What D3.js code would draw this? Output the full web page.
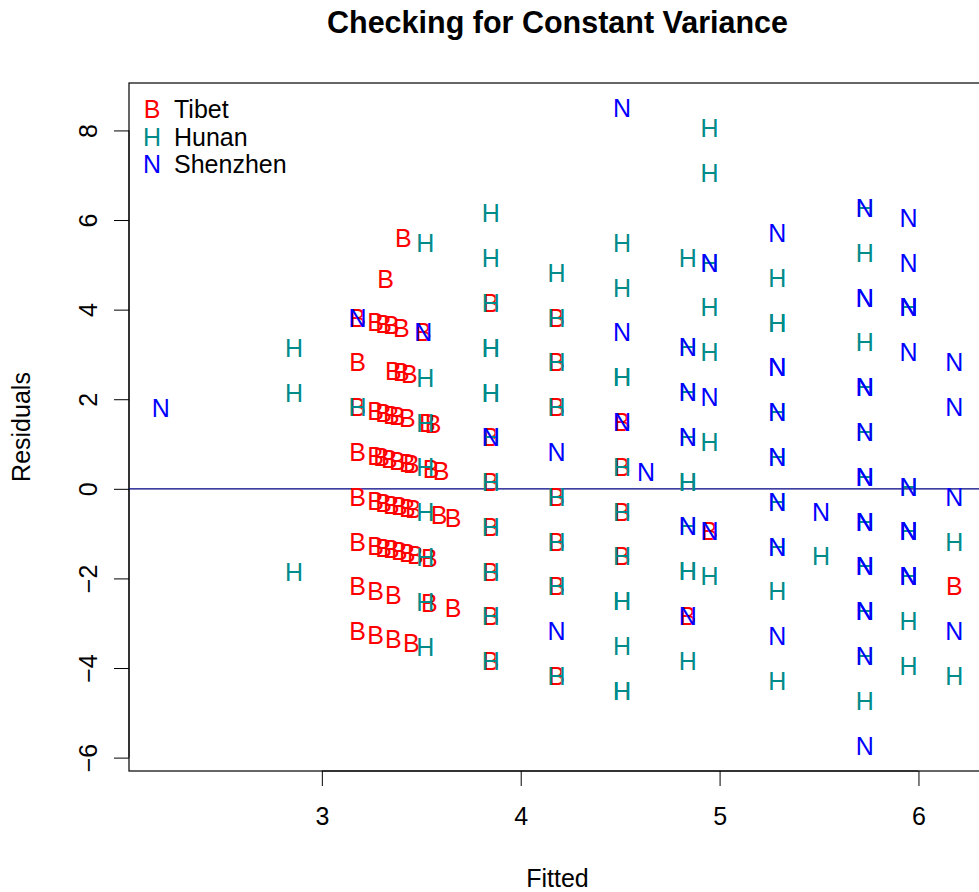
<!DOCTYPE html>
<html>
<head>
<meta charset="utf-8">
<script src="https://cdn.jsdelivr.net/npm/d3@7/dist/d3.min.js"></script>
<style>
  html, body { margin: 0; padding: 0; background: #fff; }
  svg { display: block; font-family: "Liberation Sans", Arial, Helvetica, sans-serif; }
</style>
</head>
<body>
<svg id="chart" width="979" height="892"></svg>
<script>
// ---- data ----
const groups = ["Tibet", "Hunan", "Shenzhen"];
const symbols = ["B", "H", "N"];
const colors = ["#FF0000", "#008B8B", "#0000FF"];
const xTicks = [3, 4, 5, 6];
const yTicks = [-6, -4, -2, 0, 2, 4, 6, 8];

// [fitted, residual]
const tibetPts = [
  [3.41,5.59],[3.32,4.68],
  [3.18,3.82],[3.27,3.73],[3.31,3.69],[3.35,3.65],[3.40,3.60],[3.51,3.49],
  [3.18,2.82],[3.36,2.64],[3.40,2.60],[3.44,2.56],
  [3.18,1.82],[3.27,1.73],[3.31,1.69],[3.35,1.65],[3.38,1.62],[3.43,1.57],[3.53,1.47],[3.56,1.44],
  [3.18,0.82],[3.27,0.73],[3.30,0.70],[3.34,0.66],[3.38,0.62],[3.43,0.57],[3.45,0.55],[3.55,0.45],[3.60,0.40],
  [3.18,-0.18],[3.27,-0.27],[3.31,-0.31],[3.35,-0.35],[3.39,-0.39],[3.43,-0.43],[3.46,-0.46],[3.59,-0.59],[3.66,-0.66],
  [3.18,-1.18],[3.27,-1.27],[3.31,-1.31],[3.35,-1.35],[3.39,-1.39],[3.43,-1.43],[3.47,-1.47],[3.54,-1.54],
  [3.18,-2.18],[3.27,-2.27],[3.36,-2.36],[3.54,-2.54],[3.66,-2.66],
  [3.18,-3.18],[3.27,-3.27],[3.36,-3.36],[3.45,-3.45],
  [3.85,4.15],[3.85,1.15],[3.85,0.15],[3.85,-0.85],[3.85,-1.85],[3.85,-2.85],[3.85,-3.85],
  [4.18,3.82],[4.18,2.82],[4.18,1.82],[4.18,-0.18],[4.18,-1.18],[4.18,-2.18],[4.18,-4.18],
  [4.51,1.49],[4.51,0.49],[4.51,-0.51],[4.51,-1.51],
  [4.84,-2.84],[4.95,-0.95],[6.18,-2.18]
];
const hunanPts = [
  [2.86,3.14],[2.86,2.14],[2.86,-1.86],
  [3.18,1.82],
  [3.52,5.48],[3.52,2.48],[3.52,1.48],[3.52,0.48],[3.52,-0.52],[3.52,-1.52],[3.52,-2.52],[3.52,-3.52],
  [3.85,6.15],[3.85,5.15],[3.85,4.15],[3.85,3.15],[3.85,3.15],[3.85,2.15],[3.85,2.15],[3.85,1.15],[3.85,0.15],[3.85,-0.85],[3.85,-1.85],[3.85,-2.85],[3.85,-3.85],
  [4.18,4.82],[4.18,3.82],[4.18,2.82],[4.18,1.82],[4.18,-0.18],[4.18,-1.18],[4.18,-2.18],[4.18,-4.18],
  [4.51,5.49],[4.51,4.49],[4.51,2.49],[4.51,2.49],[4.51,0.49],[4.51,-0.51],[4.51,-1.51],[4.51,-2.51],[4.51,-2.51],[4.51,-3.51],[4.51,-4.51],[4.51,-4.51],
  [4.84,5.16],[4.84,3.16],[4.84,2.16],[4.84,1.16],[4.84,0.16],[4.84,0.16],[4.84,-0.84],[4.84,-1.84],[4.84,-1.84],[4.84,-3.84],
  [4.95,8.05],[4.95,7.05],[4.95,5.05],[4.95,4.05],[4.95,3.05],[4.95,1.05],[4.95,-1.95],
  [5.29,4.71],[5.29,3.71],[5.29,3.71],[5.29,1.71],[5.29,0.71],[5.29,-0.29],[5.29,-1.29],[5.29,-2.29],[5.29,-4.29],
  [5.51,-1.51],
  [5.73,6.27],[5.73,5.27],[5.73,3.27],[5.73,2.27],[5.73,1.27],[5.73,0.27],[5.73,-0.73],[5.73,-1.73],[5.73,-2.73],[5.73,-3.73],[5.73,-4.73],
  [5.95,4.05],[5.95,0.05],[5.95,-0.95],[5.95,-1.95],[5.95,-2.95],[5.95,-3.95],
  [6.18,-1.18],[6.18,-4.18]
];
const shenzhenPts = [
  [2.19,1.81],[3.18,3.82],[3.51,3.49],[3.85,1.15],[4.18,0.82],[4.18,-3.18],
  [4.51,8.49],[4.51,3.49],[4.51,1.49],[4.63,0.37],
  [4.84,3.16],[4.84,2.16],[4.84,1.16],[4.84,-0.84],[4.84,-2.84],
  [4.95,5.05],[4.95,2.05],[4.95,-0.95],
  [5.29,5.71],[5.29,2.71],[5.29,2.71],[5.29,1.71],[5.29,0.71],[5.29,-0.29],[5.29,-1.29],[5.29,-3.29],
  [5.51,-0.51],
  [5.73,6.27],[5.73,4.27],[5.73,4.27],[5.73,2.27],[5.73,2.27],[5.73,1.27],[5.73,0.27],[5.73,0.27],[5.73,-0.73],[5.73,-0.73],[5.73,-1.73],[5.73,-1.73],[5.73,-2.73],[5.73,-2.73],[5.73,-3.73],[5.73,-5.73],
  [5.95,6.05],[5.95,5.05],[5.95,4.05],[5.95,4.05],[5.95,3.05],[5.95,0.05],[5.95,-0.95],[5.95,-0.95],[5.95,-1.95],[5.95,-1.95],
  [6.18,2.82],[6.18,1.82],[6.18,-0.18],[6.18,-3.18]
];
const groupPts = [tibetPts, hunanPts, shenzhenPts];

// ---- layout ----
const W = 979, H = 892;
const plot = { left: 129, right: 986, top: 83, bottom: 771 };
const baseFont = 25;

const all = groupPts.flat();
function padExt(ext) { const r = ext[1] - ext[0]; return [ext[0] - 0.04 * r, ext[1] + 0.04 * r]; }
const x = d3.scaleLinear().domain(padExt(d3.extent(all, d => d[0]))).range([plot.left, plot.right]);
const y = d3.scaleLinear().domain(padExt(d3.extent(all, d => d[1]))).range([plot.bottom, plot.top]);

const svg = d3.select("#chart");
svg.append("rect").attr("width", W).attr("height", H).attr("fill", "#fff");

svg.append("defs").append("clipPath").attr("id", "clip")
  .append("rect").attr("x", plot.left).attr("y", plot.top)
  .attr("width", plot.right - plot.left).attr("height", plot.bottom - plot.top);

// title
svg.append("text").attr("x", (plot.left + plot.right) / 2).attr("y", 33)
  .attr("text-anchor", "middle").attr("font-weight", "bold").attr("font-size", 30.5)
  .text("Checking for Constant Variance");

// x axis
const xAxis = d3.axisBottom(x).tickValues(xTicks).tickSize(15).tickPadding(21).tickFormat(d3.format("d"));
const gx = svg.append("g").attr("transform", `translate(0,${plot.bottom})`).call(xAxis);
gx.select(".domain").attr("d", `M${x(xTicks[0])},0H${x(xTicks[xTicks.length-1])}`);
gx.selectAll("text").attr("font-size", baseFont).attr("fill", "#000").attr("font-family", "Liberation Sans, Arial, sans-serif");
gx.selectAll("line, path").attr("stroke", "#000");

// y axis
const yAxis = d3.axisLeft(y).tickValues(yTicks).tickSize(15).tickFormat(d3.format("d"));
const gy = svg.append("g").attr("transform", `translate(${plot.left},0)`).call(yAxis);
gy.select(".domain").attr("d", `M0,${y(yTicks[0])}V${y(yTicks[yTicks.length-1])}`);
gy.selectAll("line, path").attr("stroke", "#000");
gy.selectAll(".tick text")
  .attr("font-size", baseFont).attr("fill", "#000").attr("font-family", "Liberation Sans, Arial, sans-serif")
  .attr("text-anchor", "middle").attr("x", 0).attr("y", 0)
  .attr("transform", "translate(-41,0) rotate(-90)").attr("dy", "0.35em");

// plot box
svg.append("rect").attr("x", plot.left).attr("y", plot.top)
  .attr("width", plot.right - plot.left).attr("height", plot.bottom - plot.top)
  .attr("fill", "none").attr("stroke", "#000").attr("stroke-width", 1.2);

// axis labels
svg.append("text").attr("x", (plot.left + plot.right) / 2).attr("y", 887)
  .attr("text-anchor", "middle").attr("font-size", baseFont).text("Fitted");
svg.append("text").attr("transform", `translate(30,${(plot.top + plot.bottom) / 2}) rotate(-90)`)
  .attr("text-anchor", "middle").attr("font-size", baseFont).text("Residuals");

// zero line
const body = svg.append("g").attr("clip-path", "url(#clip)");
body.append("line").attr("x1", plot.left).attr("x2", plot.right)
  .attr("y1", y(0)).attr("y2", y(0)).attr("stroke", "#000080").attr("stroke-width", 1.3);

// points as letters
groupPts.forEach((pts, gi) => {
  body.append("g").selectAll("text").data(pts).join("text")
    .attr("x", d => x(d[0])).attr("y", d => y(d[1]))
    .attr("dy", "0.36em").attr("text-anchor", "middle")
    .attr("font-size", baseFont).attr("fill", colors[gi])
    .text(symbols[gi]);
});

// legend
const leg = svg.append("g");
groups.forEach((g, i) => {
  const cy = 109 + i * 27.5;
  leg.append("text").attr("x", 152).attr("y", cy).attr("dy", "0.36em")
    .attr("text-anchor", "middle").attr("font-size", baseFont).attr("fill", colors[i]).text(symbols[i]);
  leg.append("text").attr("x", 174).attr("y", cy).attr("dy", "0.36em")
    .attr("font-size", baseFont).attr("fill", "#000").text(g);
});
</script>
</body>
</html>
